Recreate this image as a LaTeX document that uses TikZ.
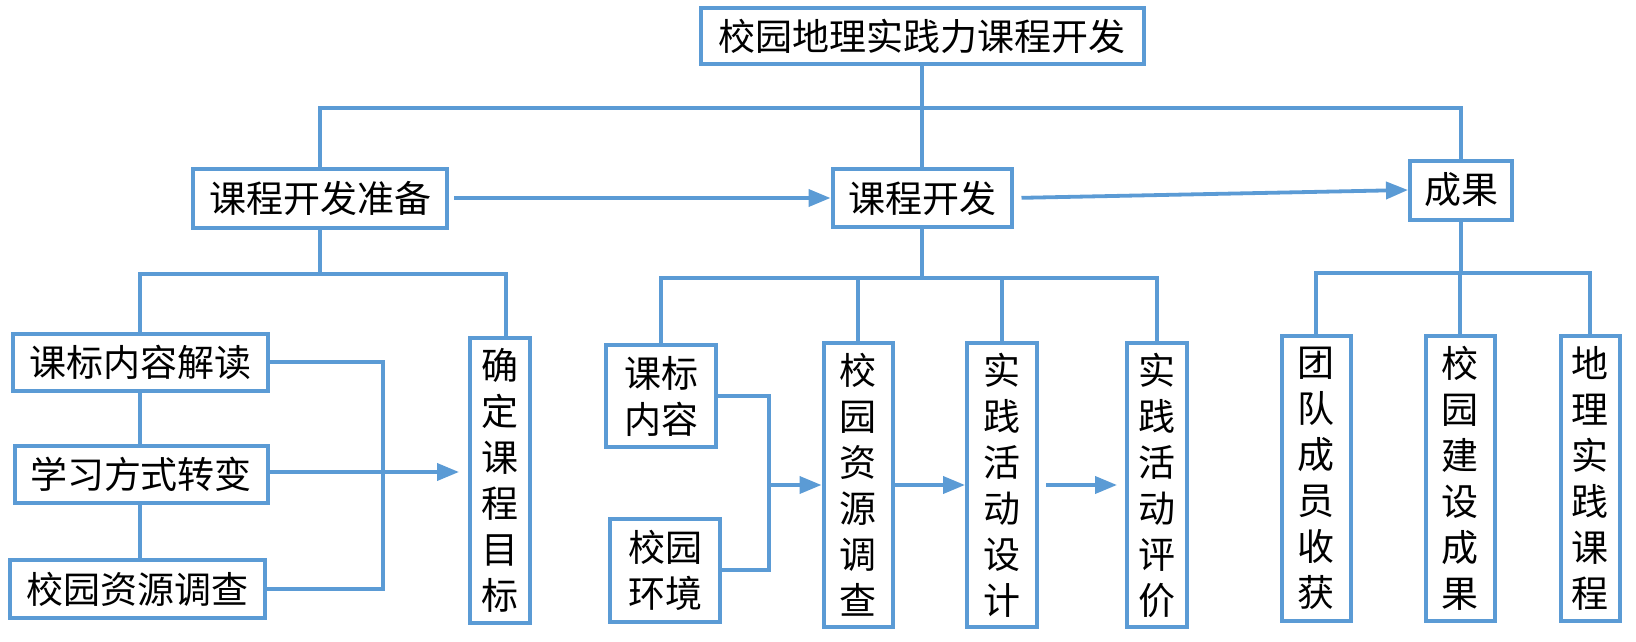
\documentclass[tikz,border=0pt]{standalone}
\usepackage{fontspec}
\setmainfont{Noto Sans CJK SC}
\usetikzlibrary{arrows.meta}
\definecolor{lineblue}{HTML}{5B9BD5}
\tikzset{
  box/.style={draw=lineblue, line width=4pt, fill=white, inner sep=0pt, align=center,
    font=\fontsize{37pt}{46pt}\selectfont},
  conn/.style={draw=lineblue, line width=3.8pt},
  arr/.style={conn, -{Triangle[length=22pt,width=17pt]}},
}
\begin{document}
\begin{tikzpicture}[x=1pt,y=-1pt]
\useasboundingbox[fill=white] (0,0) rectangle (1636,642);
% nodes
\node[box, minimum width=443pt, minimum height=56pt] (top) at (922,36) {校园地理实践力课程开发};
\node[box, minimum width=254pt, minimum height=59pt] (prep) at (320,198) {课程开发准备};
\node[box, minimum width=179pt, minimum height=58pt] (dev) at (922,198) {课程开发};
\node[box, minimum width=102pt, minimum height=59pt] (res) at (1461,190) {成果};
\node[box, minimum width=255pt, minimum height=57pt] (a1) at (140,362) {课标内容解读};
\node[box, minimum width=253pt, minimum height=57pt] (a2) at (141,474) {学习方式转变};
\node[box, minimum width=255pt, minimum height=58pt] (a3) at (137,589) {校园资源调查};
\node[box, minimum width=60pt, minimum height=285pt] (goal) at (500,480) {确\\定\\课\\程\\目\\标};
\node[box, minimum width=110pt, minimum height=102pt] (b1) at (661,396) {课标\\内容};
\node[box, minimum width=110pt, minimum height=103pt] (b2) at (665,570) {校园\\环境};
\node[box, minimum width=69pt, minimum height=284pt] (c1) at (858,485) {校\\园\\资\\源\\调\\查};
\node[box, minimum width=70pt, minimum height=284pt] (c2) at (1002,485) {实\\践\\活\\动\\设\\计};
\node[box, minimum width=60pt, minimum height=284pt] (c3) at (1157,485) {实\\践\\活\\动\\评\\价};
\node[box, minimum width=69pt, minimum height=285pt] (d1) at (1316,478) {团\\队\\成\\员\\收\\获};
\node[box, minimum width=69pt, minimum height=285pt] (d2) at (1460,478) {校\\园\\建\\设\\成\\果};
\node[box, minimum width=59pt, minimum height=285pt] (d3) at (1590,478) {地\\理\\实\\践\\课\\程};
% helper coordinates
\coordinate (busR) at (1461,108);
\coordinate (pbus) at (320,274);
\coordinate (dbus) at (922,278);
\coordinate (rbus) at (1461,273);
\coordinate (brka) at (383,0);
\coordinate (brkb) at (769,0);
% top level
\draw[conn] (top.south) -- (dev.north);
\draw[conn] (prep.north) |- (busR) -- (res.north);
\draw[arr, shorten <=5pt] (prep.east) -- (dev.west);
\draw[arr, shorten <=8pt] (dev.east) -- (res.west);
% preparation branch
\draw[conn] (prep.south) -- (pbus);
\draw[conn] (a1.north) |- ([xshift=6pt]goal.north |- pbus) -- ([xshift=6pt]goal.north);
\draw[conn] (a1.south) -- (a1.south |- a2.north);
\draw[conn] (a1.south |- a2.south) -- (a1.south |- a3.north);
\draw[conn] (a1.east) -- (a1.east -| brka) -- (a3.east -| brka) -- (a3.east);
\draw[arr, shorten >=9pt] ([yshift=2pt]a2.east) -- ([yshift=2pt]a2.east -| goal.west);
% development branch
\draw[conn] (dev.south) -- (dbus);
\draw[conn] (b1.north) |- (c3.north |- dbus) -- (c3.north);
\draw[conn] (c1.north) -- (c1.north |- dbus);
\draw[conn] (c2.north) -- (c2.north |- dbus);
\draw[conn] (b1.east) -- (b1.east -| brkb) -- (b2.east -| brkb) -- (b2.east);
\draw[arr] (c1.west -| brkb) -- (c1.west);
\draw[arr] (c1.east) -- (c2.west);
\draw[arr, shorten <=7pt, shorten >=8pt] (c2.east) -- (c3.west);
% results branch
\draw[conn] (res.south) -- (rbus);
\draw[conn] (d1.north) |- (d3.north |- rbus) -- (d3.north);
\draw[conn] (d2.north) -- (d2.north |- rbus);
\end{tikzpicture}
\end{document}
